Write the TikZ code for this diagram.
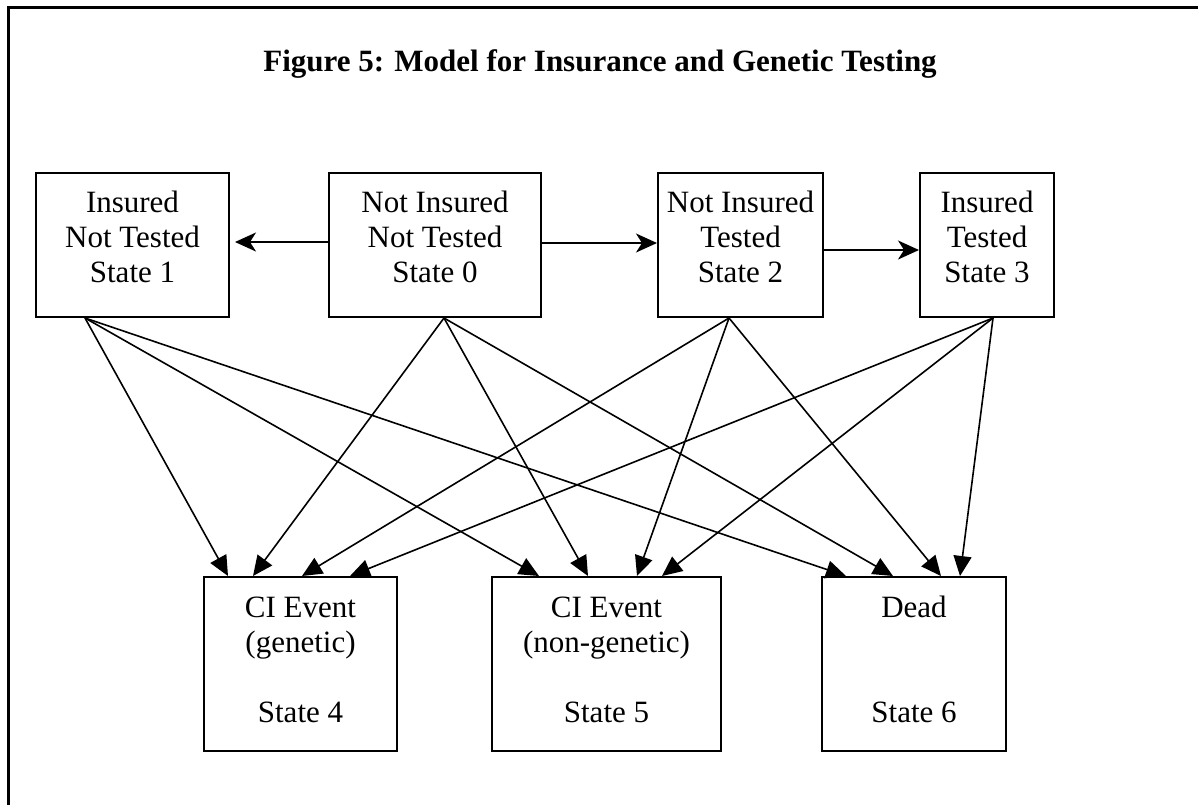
\documentclass[tikz,border=0pt]{standalone}
\usepackage{fontspec}
\setmainfont{Liberation Serif}
\usetikzlibrary{arrows.meta}
\begin{document}
\begin{tikzpicture}[x=0.5pt,y=-0.5pt,
  statebox/.style={draw,line width=1pt,inner sep=0pt},
  boxtext/.style={anchor=north,inner sep=0pt,align=center,
    font=\fontsize{15.5}{17.5}\selectfont},
  trans/.style={line width=0.8pt,-{Triangle[length=10pt,width=9pt]}},
  move/.style={line width=0.8pt,-{Stealth[length=10.5pt,width=9.5pt,inset=3pt]}}]
\useasboundingbox (0,0) rectangle (1198,805);

% page frame
\draw[line width=1.5pt] (8,805) -- (8,7) -- (1198,7);

% title
\node[inner sep=0pt,font=\fontsize{15.5}{18}\selectfont\bfseries] (title) at (600,64)
  {Figure 5: Model for Insurance and Genetic Testing};

% upper states
\node[statebox,minimum width=96.5pt,minimum height=72pt] (s1) at (132.5,245) {};
\node[statebox,minimum width=106pt,minimum height=72pt] (s0) at (435,245) {};
\node[statebox,minimum width=82.5pt,minimum height=72pt] (s2) at (740.5,245) {};
\node[statebox,minimum width=67pt,minimum height=72pt] (s3) at (987,245) {};

\node[boxtext] (s1t) at (132.5,187.5) {\strut Insured\\Not Tested\\State 1};
\node[boxtext] (s0t) at (435,187.5) {\strut Not Insured\\Not Tested\\State 0};
\node[boxtext] (s2t) at (740.5,187.5) {\strut Not Insured\\Tested\\State 2};
\node[boxtext] (s3t) at (987,187.5) {\strut Insured\\Tested\\State 3};

% absorbing states
\node[statebox,minimum width=96.5pt,minimum height=87pt] (s4) at (300.5,664) {};
\node[statebox,minimum width=114.5pt,minimum height=87pt] (s5) at (606.5,664) {};
\node[statebox,minimum width=92pt,minimum height=87pt] (s6) at (914,664) {};

\node[boxtext] (s4t) at (300.5,592.5) {\strut CI Event\\(genetic)\\[17.5pt]State 4};
\node[boxtext] (s5t) at (606.5,592.5) {\strut CI Event\\(non-genetic)\\[17.5pt]State 5};
\node[boxtext] (s6t) at (914,592.5) {\strut Dead\\[35pt]State 6};

% insurance and testing moves
\draw[move,shorten >=2.5pt] ([yshift=1.5pt]s0.west) -- ([yshift=1.5pt]s1.east);
\draw[move] ([yshift=1pt]s0.east) -- ([yshift=1pt]s2.west);
\draw[move] ([yshift=-2.5pt]s2.east) -- ([yshift=-2.5pt]s3.west);

% transitions to CI events and death
\draw[trans] ([xshift=-23.75pt]s1.south) -- ([xshift=-36.25pt]s4.north);
\draw[trans] ([xshift=-23.75pt]s1.south) -- ([xshift=-33.75pt]s5.north);
\draw[trans] ([xshift=-23.75pt]s1.south) -- ([xshift=-34pt]s6.north);

\draw[trans] ([xshift=4.5pt]s0.south) -- ([xshift=-23.75pt]s4.north);
\draw[trans] ([xshift=4.5pt]s0.south) -- ([xshift=-9.25pt]s5.north);
\draw[trans] ([xshift=4.5pt]s0.south) -- ([xshift=-10.5pt]s6.north);

\draw[trans] ([xshift=-5.75pt]s2.south) -- ([xshift=0.75pt]s4.north);
\draw[trans] ([xshift=-5.75pt]s2.south) -- ([xshift=15.25pt]s5.north);
\draw[trans] ([xshift=-5.75pt]s2.south) -- ([xshift=13.5pt]s6.north);

\draw[trans] ([xshift=3pt]s3.south) -- ([xshift=24.75pt]s4.north);
\draw[trans] ([xshift=3pt]s3.south) -- ([xshift=27.75pt]s5.north);
\draw[trans] ([xshift=3pt]s3.south) -- ([xshift=23pt]s6.north);
\end{tikzpicture}
\end{document}
